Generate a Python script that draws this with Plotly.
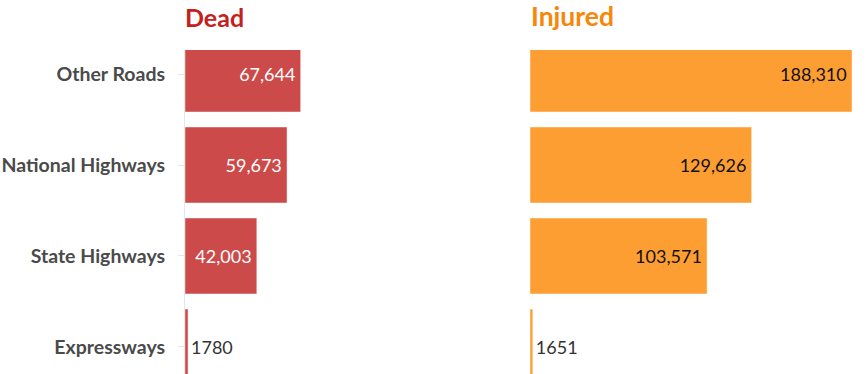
import plotly.graph_objects as go
from plotly.subplots import make_subplots

categories = ["Other Roads", "National Highways", "State Highways", "Expressways"]
dead = [67644, 59673, 42003, 1780]
injured = [188310, 129626, 103571, 1651]
dead_labels = ["67,644", "59,673", "42,003", "1780"]
injured_labels = ["188,310", "129,626", "103,571", "1651"]

FONT = "Lato"
W, H = 867, 374
L, R = 185, 15
x_max = 188310

fig = make_subplots(rows=1, cols=2, shared_yaxes=True, horizontal_spacing=0.0)

def text_colors(vals, inside_color):
    return [inside_color if v > 10000 else "#333333" for v in vals]

def pad(labels, vals):
    return [t + "\u2009" if v > 10000 else t for t, v in zip(labels, vals)]

fig.add_trace(go.Bar(
    y=categories, x=dead, orientation="h", width=0.835,
    marker=dict(color="#cc4a4a", line=dict(color="rgba(255,255,255,0.45)", width=1)),
    text=pad(dead_labels, dead), textposition=["inside", "inside", "inside", "outside"],
    insidetextanchor="end", textangle=0,
    textfont=dict(family=FONT, size=18, color=text_colors(dead, "white")),
    cliponaxis=True, hoverinfo="skip"), row=1, col=1)

fig.add_trace(go.Bar(
    y=categories, x=injured, orientation="h", width=0.835,
    marker=dict(color="#fd9e33", line=dict(color="rgba(255,255,255,0.45)", width=1)),
    text=pad(injured_labels, injured), textposition=["inside", "inside", "inside", "outside"],
    insidetextanchor="end", textangle=0,
    textfont=dict(family=FONT, size=18, color=text_colors(injured, "#111111")),
    cliponaxis=True, hoverinfo="skip"), row=1, col=2)

pw = W - L - R
d1 = [0, (507 - L) / pw]
d2 = [(530 - L) / pw, 1]

fig.update_layout(
    width=W, height=H,
    margin=dict(l=L, r=R, t=50, b=0),
    paper_bgcolor="white", plot_bgcolor="white",
    showlegend=False,
    uniformtext=dict(mode=False),
    xaxis=dict(domain=d1, range=[0, x_max], visible=False, fixedrange=True),
    xaxis2=dict(domain=d2, range=[0, x_max], visible=False, fixedrange=True),
    yaxis=dict(
        type="category", categoryorder="array", categoryarray=categories,
        range=[3.297, -0.264], autorange=False,
        ticks="outside", ticklen=6, tickcolor="#e6e6e6",
        showline=True, linecolor="#e6e6e6", linewidth=1,
        showgrid=False, zeroline=False, ticklabelstandoff=9,
        tickfont=dict(family=FONT, size=19.5, color="#4a4a4a", weight="bold"),
    ),
    yaxis2=dict(showticklabels=False, ticks="", showline=False, showgrid=False),
    annotations=[
        dict(text="<b>Dead</b>", xref="x domain", yref="paper", x=0, y=1, yshift=16,
             xshift=-2, xanchor="left", yanchor="bottom", showarrow=False,
             font=dict(family=FONT, size=25, color="#c4201e")),
        dict(text="<b>Injured</b>", xref="x2 domain", yref="paper", x=0, y=1, yshift=16,
             xshift=-1, xanchor="left", yanchor="bottom", showarrow=False,
             font=dict(family=FONT, size=26.5, color="#f7870a")),
    ],
)

fig.write_html("out.html", config={"displayModeBar": False},
               post_script="document.body.style.margin='0px';")
